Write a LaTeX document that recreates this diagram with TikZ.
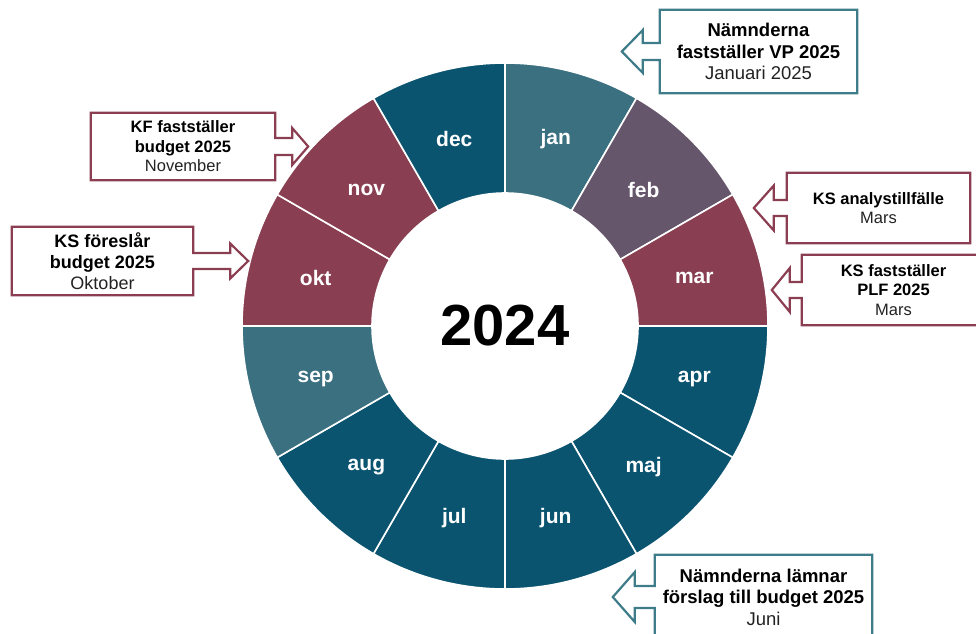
\documentclass[tikz,border=0pt]{standalone}
\usepackage{fontspec}
\setmainfont{Liberation Sans}
\usetikzlibrary{calc}

\definecolor{ringblue}{HTML}{0B5470}
\definecolor{ringteal}{HTML}{3B7080}
\definecolor{ringplum}{HTML}{66566B}
\definecolor{ringwine}{HTML}{893F51}
\definecolor{boxteal}{HTML}{3F7C89}
\definecolor{boxwine}{HTML}{8B3E52}
\definecolor{subtext}{HTML}{222222}

\tikzset{
  month/.style={text=white, yshift=-2.5, font=\fontsize{21}{21}\selectfont\bfseries},
  callbox/.style={align=center, inner sep=0pt, minimum width=#1},
  big/.style={font=\fontsize{18.5}{21.5}\selectfont},
  small/.style={font=\fontsize{16.5}{19.5}\selectfont}
}

% #1 node, #2 colour, #3 shaft, #4 head, #5 half shaft, #6 half head
\newcommand{\leftcall}[6]{
  \draw[#2, line width=2.2pt] (#1.north west) -- (#1.north east) -- (#1.south east) -- (#1.south west)
    -- ([yshift=-#5]#1.west) -- ++(-#3,0) -- ++(0,{#5-#6}) -- ++(-#4,#6) -- ++(#4,#6)
    -- ++(0,{#5-#6}) -- ++(#3,0) -- cycle;
}
\newcommand{\rightcall}[6]{
  \draw[#2, line width=2.2pt] (#1.north east) -- (#1.north west) -- (#1.south west) -- (#1.south east)
    -- ([yshift=-#5]#1.east) -- ++(#3,0) -- ++(0,{#5-#6}) -- ++(#4,#6) -- ++(-#4,#6)
    -- ++(0,{#5-#6}) -- ++(-#3,0) -- cycle;
}

\begin{document}
\begin{tikzpicture}[x=1pt, y=1pt]
\useasboundingbox (0,0) rectangle (976,633);
\clip (0,0) rectangle (976,633);
\coordinate (c) at (505,307);

\foreach \m/\c [count=\i from 0] in {jan/ringteal, feb/ringplum, mar/ringwine, apr/ringblue,
    maj/ringblue, jun/ringblue, jul/ringblue, aug/ringblue, sep/ringteal, okt/ringwine,
    nov/ringwine, dec/ringblue}{
  \pgfmathsetmacro\a{90-30*\i}
  \draw[fill=\c, draw=white, line width=1.6pt] ($(c)+(\a:263)$) arc[start angle=\a, end angle=\a-30, radius=263]
    -- ($(c)+(\a-30:133)$) arc[start angle=\a-30, end angle=\a, radius=133] -- cycle;
  \node[month] (m-\m) at ($(c)+(\a-15:196)$) {\m};
}
\node[font=\fontsize{58}{58}\selectfont\bfseries] (year) at (c) {2024};

\path (758.5,581.5) node[callbox=197, minimum height=83, big] (vp) {\textbf{Nämnderna}\\\textbf{fastställer VP 2025}\\\color{subtext}Januari 2025}
      (183,486.5) node[callbox=184, minimum height=67, small] (kf) {\textbf{KF fastställer}\\\textbf{budget 2025}\\\color{subtext}November}
      (102.5,372) node[callbox=181, minimum height=68, font=\fontsize{18}{21}\selectfont] (ksf) {\textbf{KS föreslår}\\\textbf{budget 2025}\\\color{subtext}Oktober}
      (878.5,425) node[callbox=183, minimum height=70, small] (ksa) {\textbf{KS analystillfälle}\\\color{subtext}Mars}
      (893.5,343) node[callbox=183, minimum height=70, small] (plf) {\textbf{KS fastställer}\\\textbf{PLF 2025}\\\color{subtext}Mars}
      (763.5,36) node[callbox=217, minimum height=84, big] (nl) {\textbf{Nämnderna lämnar}\\\textbf{förslag till budget 2025}\\\color{subtext}Juni};

\leftcall{vp}{boxteal}{17}{21}{8.5}{21.5}
\rightcall{kf}{boxwine}{17}{16}{8.5}{18.5}
\rightcall{ksf}{boxwine}{37}{18}{8}{17.5}
\leftcall{ksa}{boxwine}{13}{20}{8}{22.5}
\leftcall{plf}{boxwine}{12}{18}{8}{22}
\leftcall{nl}{boxteal}{20}{22}{11}{25}

\end{tikzpicture}
\end{document}
